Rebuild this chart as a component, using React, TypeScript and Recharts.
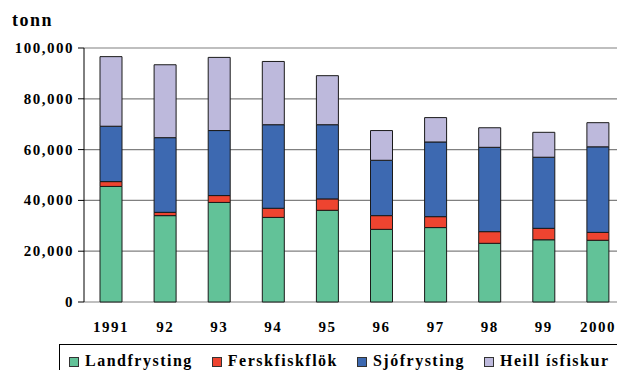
import React from 'react';
import { BarChart, Bar, XAxis, YAxis, CartesianGrid } from 'recharts';

const years = ['1991', '92', '93', '94', '95', '96', '97', '98', '99', '2000'];
const landfrysting = [45500, 34000, 39200, 33300, 36100, 28600, 29300, 23100, 24500, 24300];
const ferskfiskflok = [1900, 1300, 2700, 3600, 4500, 5400, 4300, 4600, 4500, 3100];
const sjofrysting = [21800, 29400, 25600, 32900, 29200, 21800, 29400, 33200, 28000, 33700];
const heillIsfiskur = [27400, 28700, 28800, 24900, 19300, 11700, 9600, 7700, 9800, 9500];
const yTicks = [0, 20000, 40000, 60000, 80000, 100000];
const seriesKeys = ['L', 'F', 'S', 'H'];
const seriesNames = ['Landfrysting', 'Ferskfiskflök', 'Sjófrysting', 'Heill ísfiskur'];
const colors = ['#62C298', '#EE4430', '#3D69B1', '#BDB9DC'];
const unitLabel = 'tonn';

const FONT = '"Liberation Serif", "Times New Roman", serif';

const data = years.map((year, i) => ({
  year,
  L: landfrysting[i],
  F: ferskfiskflok[i],
  S: sjofrysting[i],
  H: heillIsfiskur[i],
}));

const boundaries = [...years.map((_, i) => i), years.length];

const fmt = (v: number) => v.toLocaleString('en-US');

const YTick = (props: any) => {
  const { x, y, payload } = props;
  return (
    <text x={x} y={y} dy={5} textAnchor="end" fontFamily={FONT} fontWeight="bold" fontSize={15}
      fill="#000" style={{ letterSpacing: '1.5px' }}>
      {fmt(payload.value)}
    </text>
  );
};

const XTick = (props: any) => {
  const { x, y, payload } = props;
  return (
    <text x={x} y={y} dy={30} textAnchor="middle" fontFamily={FONT} fontWeight="bold" fontSize={15}
      fill="#000" style={{ letterSpacing: '1.5px' }}>
      {payload.value}
    </text>
  );
};

const EmptyTick = () => <g />;

export default function App() {
  return (
    <div style={{ position: 'absolute', left: 0, top: 0, width: 617, height: 370, overflow: 'hidden', background: '#fff' }}>
      <div style={{ position: 'absolute', left: 12, top: 11, fontFamily: FONT, fontWeight: 'bold', fontSize: 18, lineHeight: '18px', letterSpacing: '1.5px', color: '#000' }}>
        {unitLabel}
      </div>
      <div style={{ position: 'absolute', left: 0, top: 0 }}>
        <BarChart width={640} height={370} data={data} margin={{ top: 48, right: 15, bottom: 28, left: 0 }}>
          <CartesianGrid vertical={false} stroke="#808080" strokeWidth={1.2} />
          <XAxis xAxisId="bounds" type="number" domain={[0, years.length]} ticks={boundaries}
            allowDataOverflow height={0} tick={EmptyTick} tickSize={5}
            axisLine={{ stroke: '#000', strokeWidth: 1 }} tickLine={{ stroke: '#000' }} />
          <XAxis dataKey="year" height={40} axisLine={false} tickLine={false} tickSize={0} tickMargin={0}
            tick={XTick} interval={0} />
          <YAxis width={84} domain={[0, 100000]} ticks={yTicks} tickSize={6} tickMargin={4}
            axisLine={{ stroke: '#000' }} tickLine={{ stroke: '#000' }} tick={YTick} interval={0} />
          {seriesKeys.map((k, i) => (
            <Bar key={k} dataKey={k} name={seriesNames[i]} stackId="a" fill={colors[i]}
              stroke="#1a1a1a" strokeWidth={1} barSize={22} isAnimationActive={false} />
          ))}
        </BarChart>
      </div>
      <div style={{ position: 'absolute', left: 59, top: 344, width: 620, height: 60, borderTop: '1px solid #000', borderLeft: '1px solid #000', boxSizing: 'border-box', paddingTop: 7, paddingLeft: 9, display: 'flex', alignItems: 'flex-start', fontFamily: FONT, fontWeight: 'bold', fontSize: 16, lineHeight: '18px', letterSpacing: '1.5px', color: '#000' }}>
        {seriesNames.map((n, i) => (
          <div key={n} style={{ display: 'flex', alignItems: 'flex-start', marginRight: 19 }}>
            <div style={{ width: 10, height: 10, marginTop: 5, boxSizing: 'border-box', border: '1px solid #333', background: colors[i] }} />
            <span style={{ marginLeft: 6, whiteSpace: 'nowrap' }}>{n}</span>
          </div>
        ))}
      </div>
    </div>
  );
}
